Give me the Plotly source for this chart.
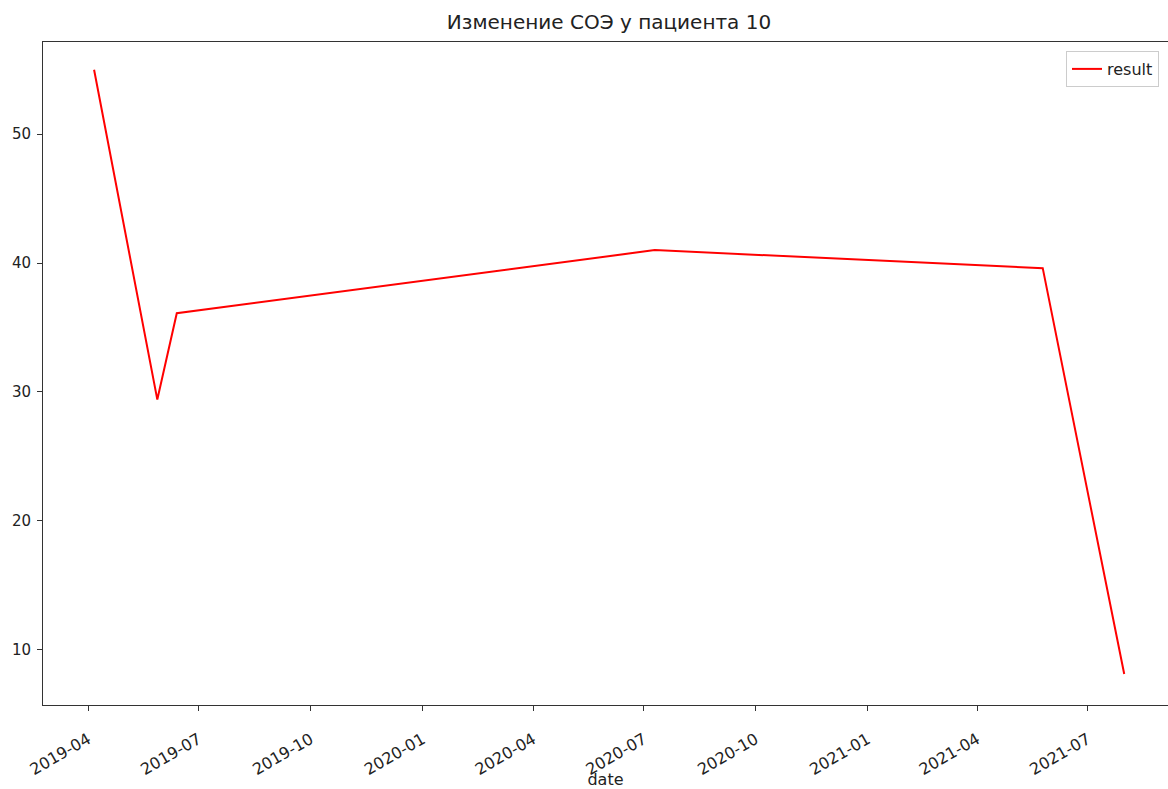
import plotly.graph_objects as go

dates = ["2019-04-06", "2019-05-28", "2019-06-13", "2020-07-10", "2021-05-25", "2021-07-31"]
result = [55.0, 29.4, 36.1, 41.0, 39.6, 8.1]
x_ticks = ["2019-04-01", "2019-07-01", "2019-10-01", "2020-01-01", "2020-04-01",
           "2020-07-01", "2020-10-01", "2021-01-01", "2021-04-01", "2021-07-01"]
x_tick_labels = ["2019-04", "2019-07", "2019-10", "2020-01", "2020-04",
                 "2020-07", "2020-10", "2021-01", "2021-04", "2021-07"]
y_ticks = [10, 20, 30, 40, 50]

font = "DejaVu Sans"

fig = go.Figure()
fig.add_trace(go.Scatter(x=dates, y=result, mode="lines", name="result",
                         line=dict(color="red", width=2)))

fig.update_layout(
    width=1168, height=789,
    margin=dict(l=43, r=0, t=42, b=84),
    paper_bgcolor="white", plot_bgcolor="white",
    font=dict(family=font, size=15, color="#222"),
    title=dict(text="Изменение СОЭ у пациента 10", x=609 / 1168, xanchor="center",
               y=1 - 22 / 789, yanchor="middle", font=dict(size=20, color="#222")),
    showlegend=True,
    legend=dict(x=(1066 - 43) / 1125, xanchor="left", y=1 - 9 / 663, yanchor="top",
                bordercolor="#ccc", borderwidth=1, bgcolor="white",
                font=dict(size=16, color="#222")),
)
fig.update_xaxes(
    range=["2019-02-23", "2021-09-05"], automargin=False,
    tickvals=x_ticks, ticktext=x_tick_labels, tickangle=-30,
    ticks="outside", ticklen=5, tickcolor="#333", ticklabelstandoff=13,
    tickfont=dict(size=16),
    showline=True, linecolor="#333", linewidth=1, mirror=True,
    showgrid=False, zeroline=False,
    title=dict(text="date", standoff=3, font=dict(size=16, color="#222")),
)
fig.update_yaxes(
    range=[5.7, 57.15], automargin=False,
    tickvals=y_ticks, ticks="outside", ticklen=5, tickcolor="#333", ticklabelstandoff=3,
    tickfont=dict(size=15),
    showline=True, linecolor="#333", linewidth=1, mirror=True,
    showgrid=False, zeroline=False,
)
fig.write_html("out.html", config={"displayModeBar": False},
               post_script="document.body.style.margin='0';")
